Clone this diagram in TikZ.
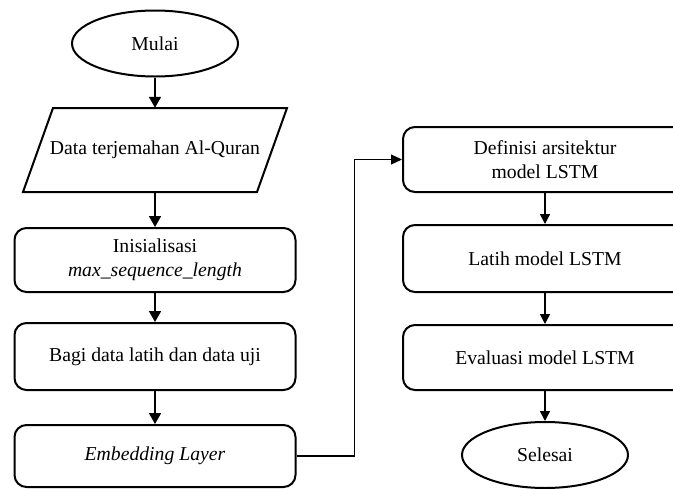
\documentclass[tikz,border=0pt]{standalone}
\usepackage{fontspec}
\setmainfont{Liberation Serif}
\usetikzlibrary{shapes.geometric,arrows.meta}
\begin{document}
\begin{tikzpicture}[x=1pt,y=-1pt,
  every node/.style={font=\fontsize{19.7}{24.5}\selectfont, align=center, inner sep=0pt},
  procbox/.style={draw, line width=2pt, rounded corners=12pt, minimum width=281pt, minimum height=64pt},
  termbox/.style={draw, ellipse, line width=2pt, minimum width=166pt, minimum height=66pt},
  flowL/.style={line width=1.8pt, -{Triangle[length=11pt,width=12pt]}},
  flowR/.style={line width=1.5pt, -{Triangle[length=10pt,width=10pt]}},
  link/.style={line width=1.2pt, -{Triangle[length=11pt,width=10pt]}}]
\useasboundingbox (0,0) rectangle (673,488);
\clip (0,0) rectangle (673,488);
% left column
\node[termbox] (mulai) at (155,43.5) {Mulai};
\draw[line width=2pt] (23,192) -- (53,108) -- (287,108) -- (257,192) -- cycle;
\node[minimum width=234pt, minimum height=84pt] (data) at (155,150) {Data terjemahan Al-Quran};
\node[procbox] (init) at (155,260) {Inisialisasi\\\textit{max\_sequence\_length}};
\node[procbox, minimum height=67pt] (bagi) at (155,356.5) {Bagi data latih dan data uji};
\node[procbox, minimum height=62pt] (emb) at (155,456) {\textit{Embedding Layer}};
% right column
\node[procbox, minimum width=284pt, minimum height=65pt] (def) at (545,159.5) {Definisi arsitektur\\model LSTM};
\node[procbox, minimum width=284pt, minimum height=67pt] (latih) at (545,258.5) {Latih model LSTM};
\node[procbox, minimum width=284pt, minimum height=65pt] (eval) at (545,357.5) {Evaluasi model LSTM};
\node[termbox] (selesai) at (545,455) {Selesai};
% connectors
\draw[flowL] (mulai) -- (data.north);
\draw[flowL] (data.south) -- (init);
\draw[flowL] (init) -- (bagi);
\draw[flowL] (bagi) -- (emb);
\draw[link] (emb.east) -- ++(58,0) |- (def.west);
\draw[flowR] (def) -- (latih);
\draw[flowR] (latih) -- (eval);
\draw[flowR] (eval) -- (selesai);
\end{tikzpicture}
\end{document}
